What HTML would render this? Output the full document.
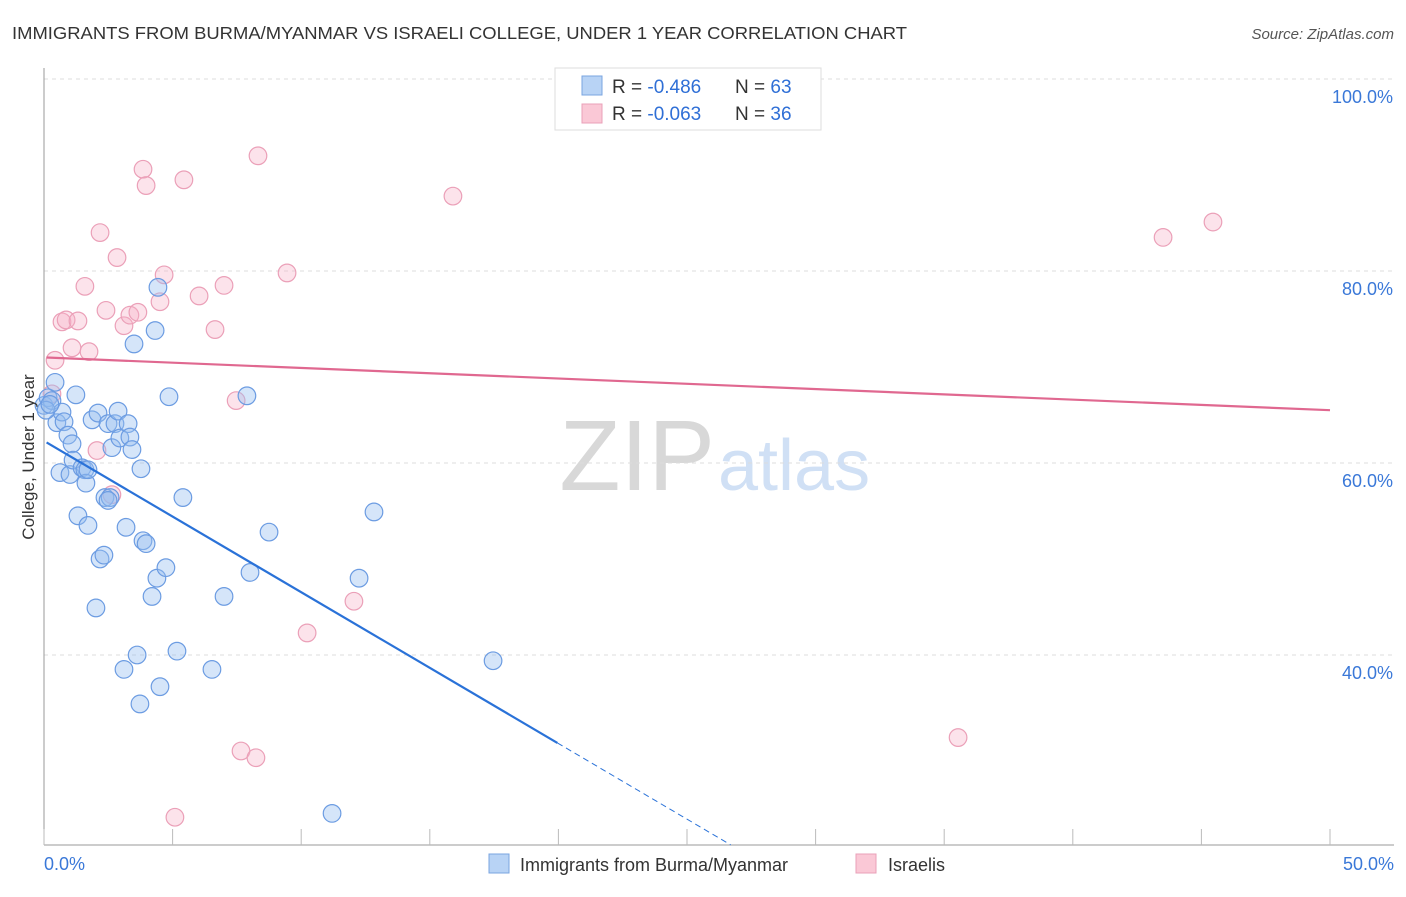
<!DOCTYPE html>
<html><head><meta charset="utf-8"><style>
body{margin:0;background:#fff;font-family:"Liberation Sans",sans-serif;}
svg text{font-family:"Liberation Sans",sans-serif;}
</style></head><body>
<svg id="chart" width="1406" height="892">
<text x="12" y="39" font-size="17.5" fill="#333" textLength="895" lengthAdjust="spacingAndGlyphs">IMMIGRANTS FROM BURMA/MYANMAR VS ISRAELI COLLEGE, UNDER 1 YEAR CORRELATION CHART</text>
<text x="1394" y="39" font-size="15" fill="#555" font-style="italic" text-anchor="end">Source: ZipAtlas.com</text>
<text x="715" y="490" font-size="100" fill="#d8d8d8" text-anchor="end" font-family="Liberation Serif">ZIP</text>
<text x="718" y="490" font-size="72" fill="#d0e0f5">atlas</text>
<g id="grid"></g>
<g id="axes"></g>
<g id="pts"></g>
<g id="lines"></g>
<text transform="translate(34,457) rotate(-90)" font-size="17" fill="#333" text-anchor="middle">College, Under 1 year</text>
<g>
<rect x="555" y="68" width="266" height="62" fill="#fff" stroke="#ddd"/>
<rect x="582" y="76" width="20" height="19" fill="#b8d3f5" stroke="#7aa5e0"/>
<rect x="582" y="104" width="20" height="19" fill="#fac8d6" stroke="#eaa0b8"/>
<text x="612" y="93" font-size="19" fill="#333">R = <tspan fill="#2f6fd6">-0.486</tspan></text>
<text x="735" y="93" font-size="19" fill="#333">N = <tspan fill="#2f6fd6">63</tspan></text>
<text x="612" y="120" font-size="19" fill="#333">R = <tspan fill="#2f6fd6">-0.063</tspan></text>
<text x="735" y="120" font-size="19" fill="#333">N = <tspan fill="#2f6fd6">36</tspan></text>
</g>
<g>
<rect x="489" y="854" width="20" height="19" fill="#b8d3f5" stroke="#7aa5e0"/>
<text x="520" y="871" font-size="18" fill="#333">Immigrants from Burma/Myanmar</text>
<rect x="856" y="854" width="20" height="19" fill="#fac8d6" stroke="#eaa0b8"/>
<text x="888" y="871" font-size="18" fill="#333">Israelis</text>
</g>
</svg>
<script>
const blueX=[0.0,0.16,0.31,0.43,0.5,0.7,0.78,0.93,1.09,0.62,1.01,1.13,1.24,1.32,1.48,1.59,1.63,1.71,1.87,2.02,2.1,2.18,2.33,2.37,2.49,2.57,2.64,2.76,2.88,2.95,3.11,3.19,3.27,3.34,3.42,3.5,3.62,3.73,3.77,3.85,3.97,4.2,4.32,4.39,4.43,4.51,4.74,4.86,5.17,5.4,6.53,7.0,7.89,8.01,8.75,11.2,12.25,12.83,17.46,2.49,1.71,0.08,0.23];
const blueY=[66.0,66.8,66.5,68.4,64.2,65.3,64.3,62.9,62.0,59.0,58.8,60.3,67.1,54.5,59.5,59.3,57.9,53.5,64.5,44.9,65.2,50.0,50.4,56.4,64.1,56.4,61.6,64.1,65.4,62.6,38.5,53.3,64.1,62.7,61.4,72.4,40.0,34.9,59.4,51.9,51.6,46.1,73.8,48.0,78.3,36.7,49.1,66.9,40.4,56.4,38.5,46.1,67.0,48.6,52.8,23.5,48.0,54.9,39.4,56.1,59.3,65.5,66.1];
const pinkX=[0.31,0.43,0.7,0.86,1.09,1.32,1.59,1.75,2.18,2.41,2.84,3.11,3.34,3.65,3.85,3.97,4.51,4.67,5.09,5.44,6.03,6.65,7.0,7.47,7.66,8.24,8.32,9.45,10.23,12.05,15.9,35.54,43.51,45.45,2.06,2.64];
const pinkY=[67.2,70.7,74.7,74.9,72.0,74.8,78.4,71.6,84.0,75.9,81.4,74.3,75.4,75.7,90.6,88.9,76.8,79.6,23.1,89.5,77.4,73.9,78.5,66.5,30.0,29.3,92.0,79.8,42.3,45.6,87.8,31.4,83.5,85.1,61.3,56.7];
const yTicks=[40,60,80,100];
const xTickLabels=["0.0%","50.0%"];
const blueFit=[62.3,-1.576]; const pinkFit=[71.0,-0.11];
const NS="http://www.w3.org/2000/svg";
const sx=v=>44+v*25.72, sy=v=>1039-v*9.6;
function mk(t,a,p){const e=document.createElementNS(NS,t);for(const k in a)e.setAttribute(k,a[k]);p.appendChild(e);return e;}
const grid=document.getElementById('grid'),axes=document.getElementById('axes'),pts=document.getElementById('pts'),lines=document.getElementById('lines');
yTicks.forEach(t=>{const l=mk('line',{x1:44,x2:1394,y1:sy(t),y2:sy(t),stroke:'#ddd','stroke-dasharray':'4,4'},grid);


const tx=mk('text',{x:1393,y:sy(t)+24,'font-size':18,fill:'#3a78d8','text-anchor':'end'},grid);tx.textContent=t.toFixed(1)+'%';

});
const ya=mk('line',{x1:44,x2:44,y1:68,y2:845,stroke:'#999'},axes);


const xa=mk('line',{x1:44,x2:1394,y1:845,y2:845,stroke:'#999'},axes);


for(let i=0;i<=10;i++){const tk=mk('line',{x1:sx(i*5),x2:sx(i*5),y1:829,y2:845,stroke:'#bbb'},axes);

}
[[0,'start',44],[50,'end',1394]].forEach((d,i)=>{const t=mk('text',{x:d[2],y:870,'font-size':18,fill:'#3a78d8','text-anchor':d[1]},axes);t.textContent=xTickLabels[i];

});
pinkX.forEach((x,i)=>{const c=mk('circle',{cx:sx(x),cy:sy(pinkY[i]),r:8.8,fill:'rgba(246,176,198,0.35)',stroke:'#eba0b8','stroke-width':1.2},pts);

});
blueX.forEach((x,i)=>{const c=mk('circle',{cx:sx(x),cy:sy(blueY[i]),r:8.8,fill:'rgba(150,190,240,0.4)',stroke:'#6c9ce2','stroke-width':1.2},pts);

});
const f=(p,x)=>p[0]+p[1]*x;
const pl=mk('line',{x1:sx(0.1),y1:sy(f(pinkFit,0.1)),x2:sx(50),y2:sy(f(pinkFit,50)),stroke:'#e06890','stroke-width':2.2},lines);


const bl=mk('line',{x1:sx(0.1),y1:sy(f(blueFit,0.1)),x2:sx(19.96),y2:sy(f(blueFit,19.96)),stroke:'#2a72d8','stroke-width':2.2},lines);


const bd=mk('line',{x1:sx(19.96),y1:sy(f(blueFit,19.96)),x2:sx(26.7),y2:sy(f(blueFit,26.7)),stroke:'#2a72d8','stroke-width':1,'stroke-dasharray':'6,4'},lines);


</script>
</body></html>
